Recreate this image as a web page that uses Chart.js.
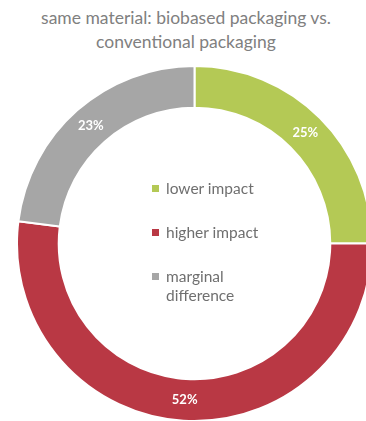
<!DOCTYPE html>
<html>
<head>
<meta charset="utf-8">
<script src="https://cdn.jsdelivr.net/npm/chart.js@4"></script>
<style>
html, body { margin: 0; padding: 0; width: 366px; height: 421px; overflow: hidden; background: #fff; font-family: Lato, "Open Sans", sans-serif; }
#title { position: absolute; left: 0; top: 6px; width: 372px; text-align: center; color: #808080; font-size: 17.5px; line-height: 24px; }
#wrap { position: absolute; left: 16px; top: 65px; width: 357px; height: 357px; }
#legend { position: absolute; left: 152px; top: 179px; width: 112px; margin: 0; padding: 0; list-style: none; color: #6f6f6f; font-size: 15.5px; line-height: 19px; }
#legend li { display: flex; align-items: flex-start; margin-bottom: 25px; }
#legend span.box { flex: none; width: 7px; height: 7px; margin: 6px 7px 0 0; }
</style>
</head>
<body>
<div id="title">same material: biobased packaging vs.<br>conventional packaging</div>
<div id="wrap"><canvas id="myChart"></canvas></div>
<ul id="legend"></ul>
<script>
var labels = ["lower impact", "higher impact", "marginal difference"];
var shares = [25, 52, 23];
var colors = ['#b4c955', '#b93844', '#a6a6a6'];

// white percentage labels on the ring
var sliceLabels = {
    id: 'sliceLabels',
    afterDatasetsDraw: function (chart) {
        var ctx = chart.ctx;
        var meta = chart.getDatasetMeta(0);
        ctx.save();
        ctx.fillStyle = '#ffffff';
        ctx.font = 'bold 13px Lato, sans-serif';
        ctx.textAlign = 'center';
        ctx.textBaseline = 'middle';
        meta.data.forEach(function (arc, i) {
            var p = arc.tooltipPosition();
            ctx.fillText(shares[i] + '%', p.x, p.y);
        });
        ctx.restore();
    }
};

var ctx = document.getElementById("myChart").getContext('2d');

var myChart = new Chart(ctx, {
    type: 'doughnut',
    data: {
        labels: labels,
        datasets: [{
            data: shares,
            backgroundColor: colors,
            borderColor: '#ffffff',
            borderWidth: 2,
            clip: false
        }]
    },
    options: {
        responsive: true,
        maintainAspectRatio: false,
        animation: false,
        cutout: '76.5%',
        layout: { padding: 0 },
        plugins: {
            legend: { display: false },
            tooltip: { enabled: false }
        }
    },
    plugins: [sliceLabels]
});

// legend in the hole of the doughnut
var legend = document.getElementById('legend');
labels.forEach(function (name, i) {
    var li = document.createElement('li');
    var box = document.createElement('span');
    box.className = 'box';
    box.style.background = colors[i];
    var txt = document.createElement('span');
    txt.textContent = name;
    li.appendChild(box);
    li.appendChild(txt);
    legend.appendChild(li);
});
</script>
</body>
</html>
